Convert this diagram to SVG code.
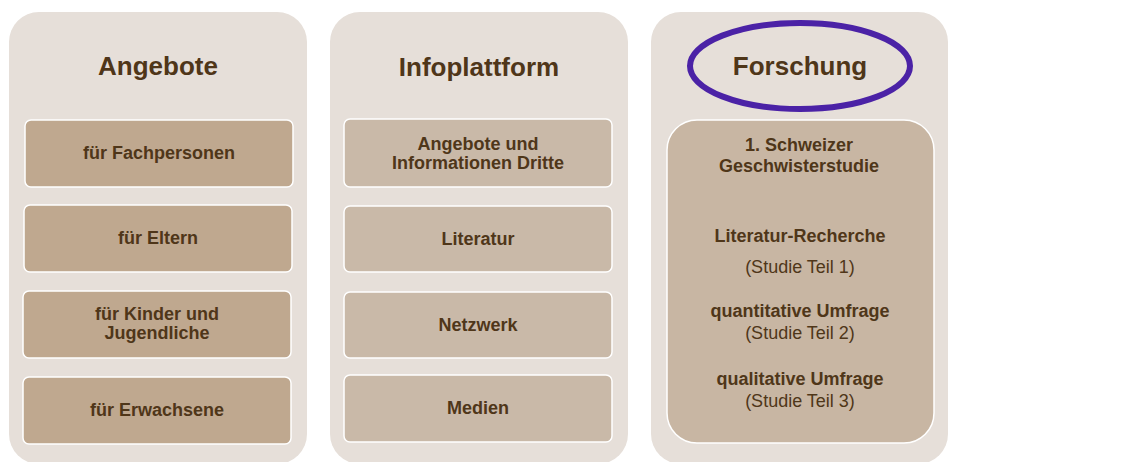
<svg xmlns="http://www.w3.org/2000/svg" width="1121" height="462" viewBox="0 0 1121 462">
  <style>
    .panel { fill: #E6DFD9; }
    .item { stroke: #FFFFFF; stroke-width: 1.5; }
    .a { fill: #BFA88F; }
    .b { fill: #C9B9A8; }
    .c { fill: #C8B6A3; }
    text { font-family: "Liberation Sans", Arial, sans-serif; fill: #4F3619; text-anchor: middle; }
    .title { font-size: 26px; font-weight: bold; }
    .lbl { font-size: 18px; font-weight: bold; }
    .sub { font-size: 18px; }
  </style>
  <rect width="1121" height="462" fill="#FFFFFF"/>

  <!-- Angebote column -->
  <g id="angebote">
    <rect class="panel" x="9" y="12" width="298" height="452" rx="30"/>
    <text class="title" x="158" y="75">Angebote</text>
  </g>
  <g id="fachpersonen">
    <rect class="item a" x="25" y="120" width="268" height="67" rx="6"/>
    <text class="lbl" x="159" y="159">für Fachpersonen</text>
  </g>
  <g id="eltern">
    <rect class="item a" x="24" y="205" width="268" height="67" rx="6"/>
    <text class="lbl" x="158" y="244">für Eltern</text>
  </g>
  <g id="kinder">
    <rect class="item a" x="23" y="291" width="268" height="67" rx="6"/>
    <text class="lbl" x="157" y="320">für Kinder und</text>
    <text class="lbl" x="157" y="339">Jugendliche</text>
  </g>
  <g id="erwachsene">
    <rect class="item a" x="23" y="377" width="268" height="67" rx="6"/>
    <text class="lbl" x="157" y="416">für Erwachsene</text>
  </g>

  <!-- Infoplattform column -->
  <g id="infoplattform">
    <rect class="panel" x="330" y="12" width="298" height="452" rx="30"/>
    <text class="title" x="479" y="76">Infoplattform</text>
  </g>
  <g id="dritte">
    <rect class="item b" x="344" y="119" width="268" height="68" rx="6"/>
    <text class="lbl" x="478" y="150">Angebote und</text>
    <text class="lbl" x="478" y="169">Informationen Dritte</text>
  </g>
  <g id="literatur">
    <rect class="item b" x="344" y="206" width="268" height="66" rx="6"/>
    <text class="lbl" x="478" y="245">Literatur</text>
  </g>
  <g id="netzwerk">
    <rect class="item b" x="344" y="292" width="268" height="66" rx="6"/>
    <text class="lbl" x="478" y="331">Netzwerk</text>
  </g>
  <g id="medien">
    <rect class="item b" x="344" y="375" width="268" height="67" rx="6"/>
    <text class="lbl" x="478" y="414">Medien</text>
  </g>

  <!-- Forschung column -->
  <g id="forschung">
    <rect class="panel" x="651" y="12" width="297" height="452" rx="30"/>
    <text class="title" x="800" y="75">Forschung</text>
    <ellipse cx="800" cy="66" rx="110" ry="43" fill="none" stroke="#4B22A6" stroke-width="6"/>
  </g>
  <g id="studie">
    <rect class="item c" x="667" y="120" width="267" height="323" rx="30"/>
    <text class="lbl" x="799" y="151">1. Schweizer</text>
    <text class="lbl" x="799" y="172">Geschwisterstudie</text>
    <text class="lbl" x="800" y="242">Literatur-Recherche</text>
    <text class="sub" x="800" y="273">(Studie Teil 1)</text>
    <text class="lbl" x="800" y="317">quantitative Umfrage</text>
    <text class="sub" x="800" y="339">(Studie Teil 2)</text>
    <text class="lbl" x="800" y="385">qualitative Umfrage</text>
    <text class="sub" x="800" y="407">(Studie Teil 3)</text>
  </g>

  <!-- no connectors in this figure -->
  <g id="connectors"/>
</svg>
